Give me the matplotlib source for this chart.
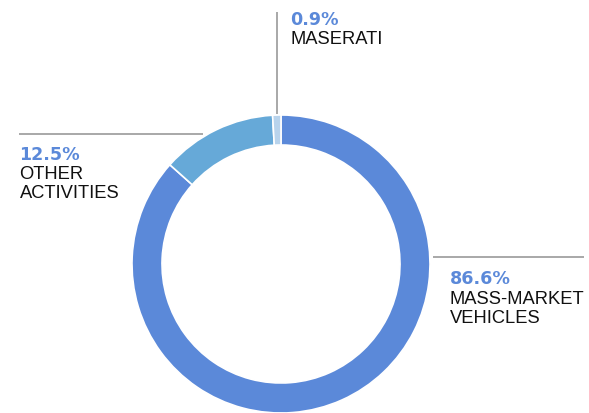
import matplotlib
matplotlib.use("Agg")
import matplotlib.pyplot as plt

# ---- data ----
segments = ["MASS-MARKET\nVEHICLES", "OTHER\nACTIVITIES", "MASERATI"]
shares = [86.6, 12.5, 0.9]
colors = ["#5b89d9", "#66a9d8", "#b8d3ec"]

# ---- layout (pixels, origin top-left) ----
W, H = 589, 413
cx, cy, R, ring = 281, 264, 149, 30
# label anchor: text x, first baseline y; leader line (x0, y0, x1, y1)
label_pos = [
    (449.5, 284.5, (433, 256.7, 584, 256.7)),
    (19.5, 159.5, (19, 134, 203, 134)),
    (290, 25.0, (276.5, 11.5, 276.5, 113.5)),
]
line_step = 19.2

fig = plt.figure(figsize=(W / 100, H / 100), dpi=100)
ax = fig.add_axes([0, 0, 1, 1])

ax.pie(shares, colors=colors, radius=R, center=(cx, H - cy),
       startangle=90, counterclock=False,
       wedgeprops=dict(width=ring, edgecolor="white", linewidth=1.2))

ax.set_xlim(0, W)
ax.set_ylim(0, H)
ax.set_aspect("equal", adjustable="box")
ax.axis("off")

font = ["Liberation Sans", "DejaVu Sans"]
for name, val, col, (tx, ty, (x0, y0, x1, y1)) in zip(segments, shares, colors, label_pos):
    ax.plot([x0, x1], [H - y0, H - y1], color="#9a9a9a", lw=1.2, solid_capstyle="butt")
    ax.text(tx, H - ty, f"{val:.1f}%", family="DejaVu Sans", fontsize=12.6,
            fontweight="bold", color="#5b89d9", va="baseline", ha="left")
    for i, ln in enumerate(name.split("\n")):
        ax.text(tx, H - (ty + (i + 1) * line_step), ln, family=font, fontsize=13.2,
                color="#111111", va="baseline", ha="left")

fig.savefig("out.png", dpi=100)
